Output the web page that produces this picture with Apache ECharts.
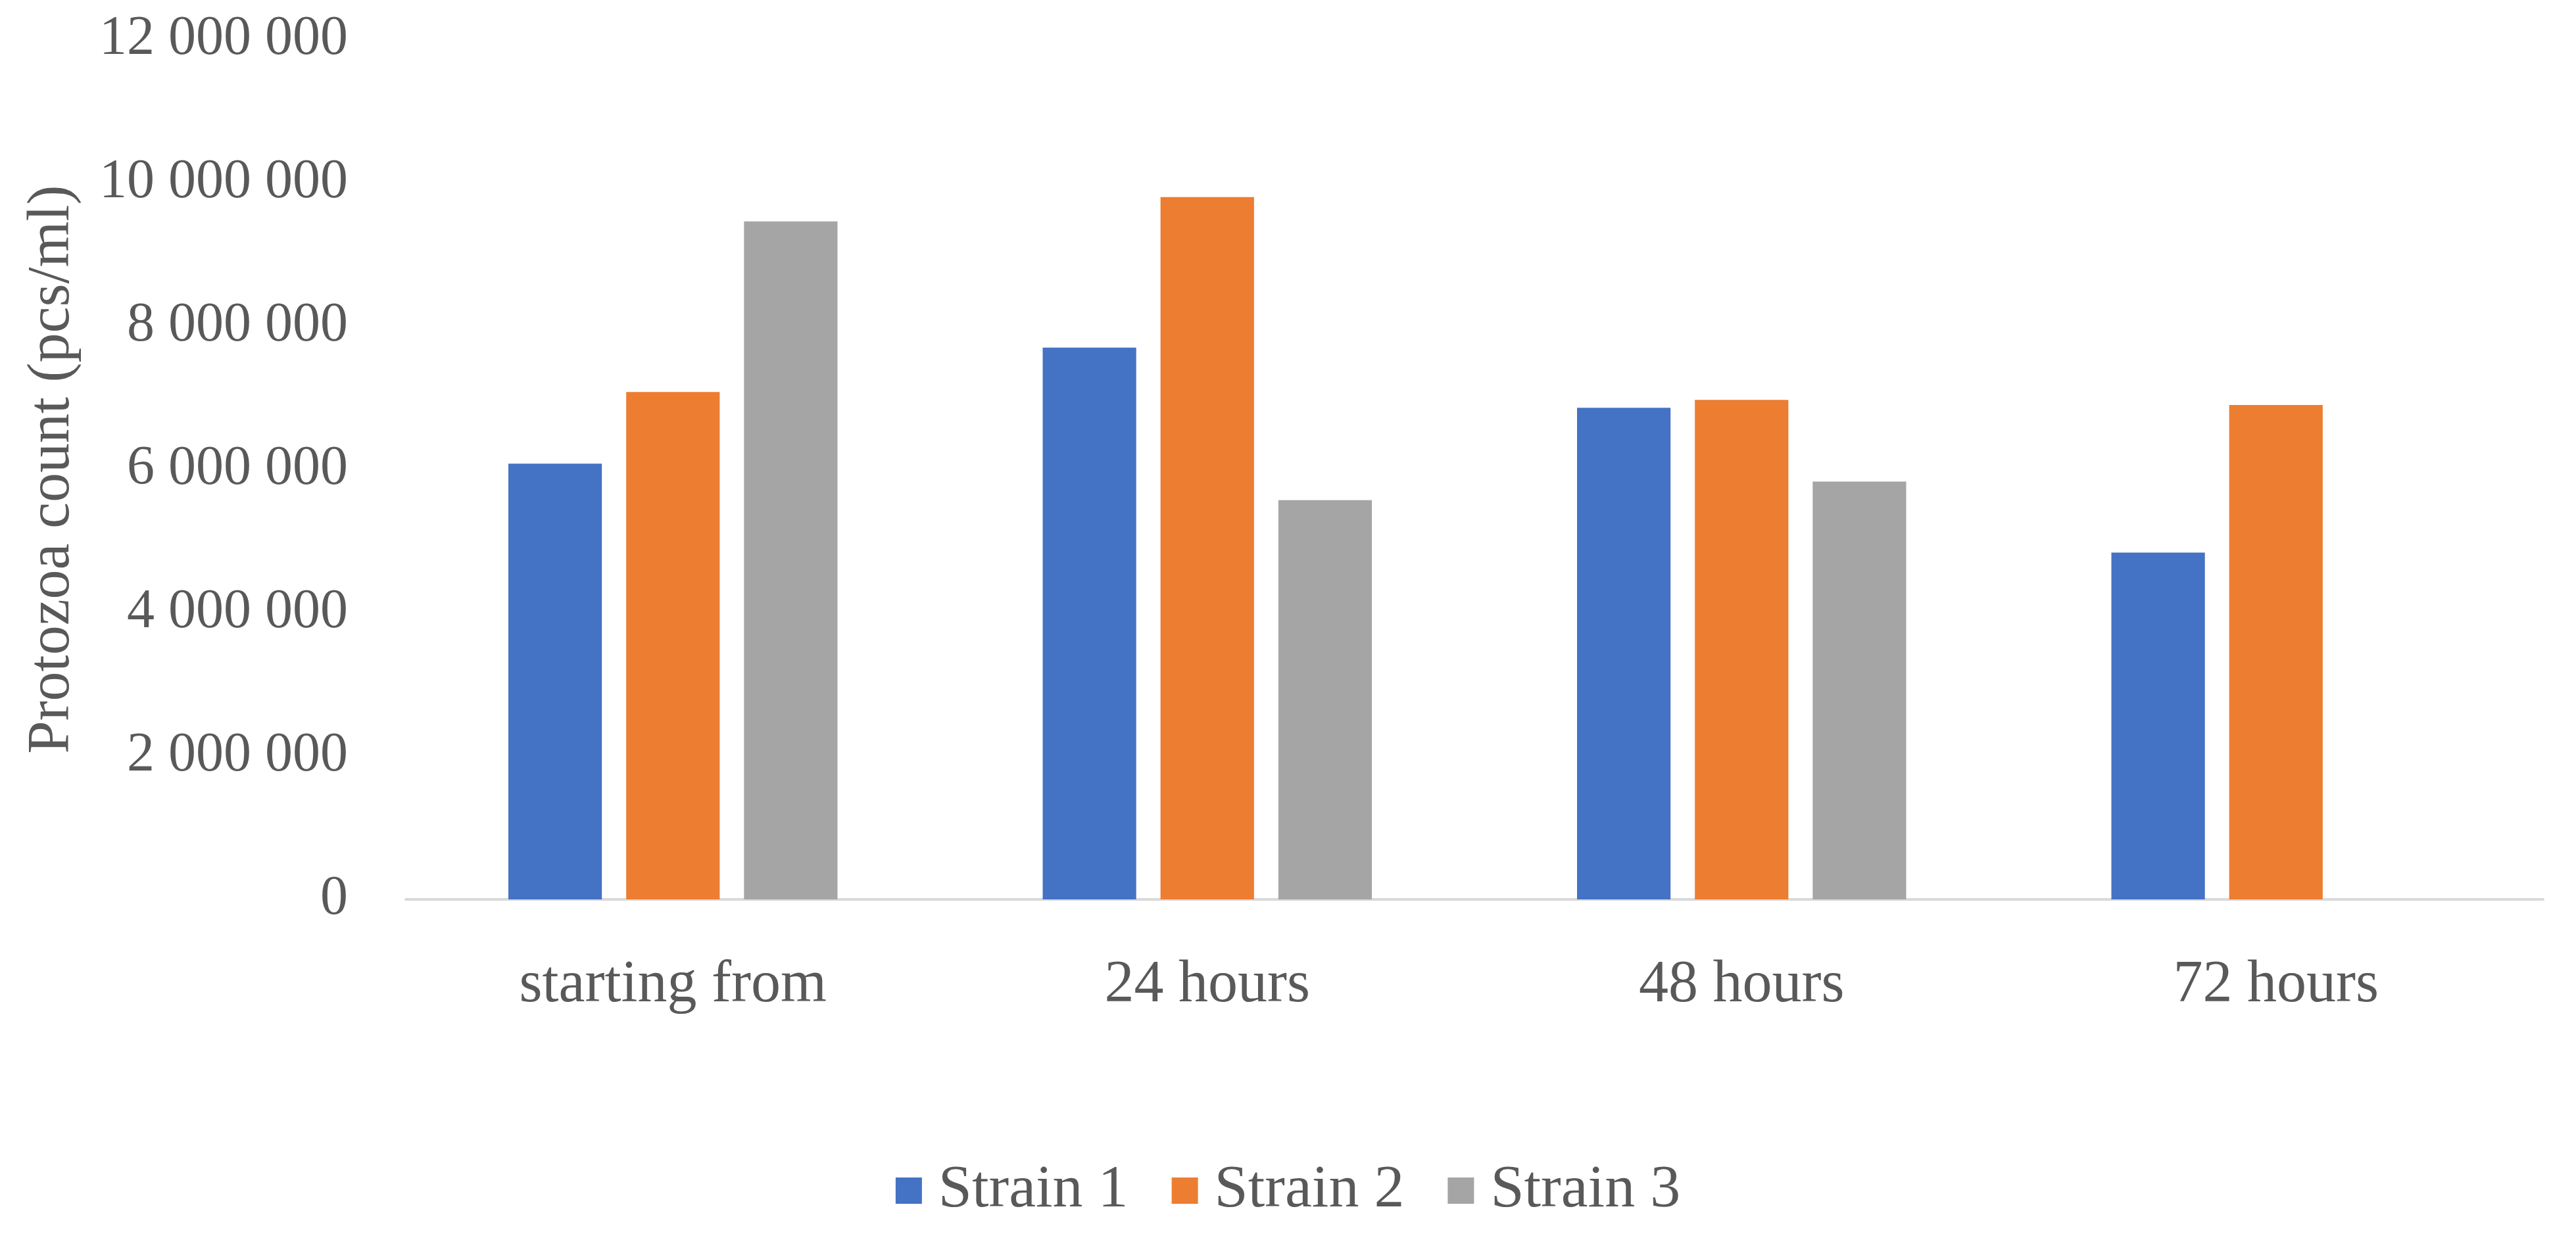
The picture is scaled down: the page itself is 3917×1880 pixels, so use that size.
<!DOCTYPE html>
<html>
<head>
<meta charset="utf-8">
<script src="https://cdn.jsdelivr.net/npm/echarts@6/dist/echarts.min.js"></script>
<style>html,body{margin:0;padding:0;background:#fff;}#chart{width:3917px;height:1880px;}</style>
</head>
<body>
<div id="chart"></div>
<script>
const categories = ['starting from', '24 hours', '48 hours', '72 hours'];
const seriesNames = ['Strain 1', 'Strain 2', 'Strain 3'];
const strain1 = [6080000, 7700000, 6860000, 4840000];
const strain2 = [7080000, 9800000, 6970000, 6900000];
const strain3 = [9460000, 5570000, 5830000, null];
const colors = ['#4472C4', '#ED7D31', '#A5A5A5'];
const yTitle = 'Protozoa count (pcs/ml)';

const FONT = '"Liberation Serif", "DejaVu Serif", serif';
const TXT = '#595959';

function fmt(v) {
  return String(v).replace(/\B(?=(\d{3})+(?!\d))/g, ' ');
}

const chart = echarts.init(document.getElementById('chart'), null, {renderer: 'canvas'});
const values = [strain1, strain2, strain3];
chart.setOption({
  backgroundColor: '#ffffff',
  animation: false,
  color: colors,
  grid: {left: 617, right: 50, top: 60, bottom: 512, containLabel: false},
  legend: {
    data: seriesNames,
    left: 'center',
    top: 1760,
    icon: 'rect',
    itemWidth: 40,
    itemHeight: 40,
    itemGap: 66,
    textStyle: {fontFamily: FONT, fontSize: 92, color: TXT, padding: [0, 0, 0, 20]}
  },
  xAxis: {
    type: 'category',
    data: categories,
    axisLine: {lineStyle: {color: '#D9D9D9', width: 4}},
    axisTick: {show: false},
    axisLabel: {fontFamily: FONT, fontSize: 90, color: TXT, margin: 86}
  },
  yAxis: {
    type: 'value',
    min: 0,
    max: 12000000,
    interval: 2000000,
    name: yTitle,
    nameLocation: 'middle',
    nameGap: 492,
    nameTextStyle: {fontFamily: FONT, fontSize: 90, color: TXT},
    axisLine: {show: false},
    axisTick: {show: false},
    splitLine: {show: false},
    axisLabel: {fontFamily: FONT, fontSize: 84, color: TXT, margin: 88, formatter: fmt}
  },
  series: seriesNames.map((n, i) => ({
    name: n,
    type: 'bar',
    data: values[i],
    barWidth: '17.5%',
    barGap: '26%',
    itemStyle: {color: colors[i]}
  }))
});
</script>
</body>
</html>
